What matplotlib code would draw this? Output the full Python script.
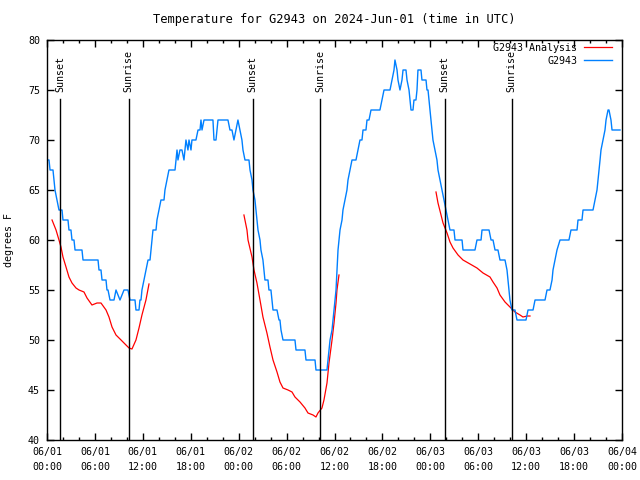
import matplotlib
matplotlib.use("Agg")
import matplotlib.pyplot as plt
import matplotlib.transforms as mtransforms

# hours since 2024-06-01 00:00 UTC
obs_hours = [0.13, 0.25, 0.38, 0.75, 0.88, 1.00, 1.25, 1.50, 1.88, 2.00, 2.63, 2.75, 3.00, 3.13,
             3.38, 3.51, 4.38, 4.51, 6.39, 6.51, 6.76, 6.89, 7.39, 7.51, 7.64, 7.89, 8.39, 8.64,
             9.14, 9.64, 10.14, 10.39, 11.02, 11.14, 11.52, 11.64, 11.77, 11.89, 12.14, 12.39,
             12.65, 12.90, 13.15, 13.27, 13.65, 13.77, 14.02, 14.27, 14.65, 14.77, 15.02, 15.27,
             16.03, 16.15, 16.28, 16.40, 16.65, 16.90, 17.15, 17.40, 17.65, 17.78, 18.03, 18.15,
             18.65, 18.91, 19.16, 19.28, 19.41, 19.66, 20.78, 20.91, 21.16, 21.41, 22.66, 22.91,
             23.16, 23.41, 23.66, 23.91, 24.16, 24.41, 24.54, 24.79, 25.29, 25.42, 25.67, 25.79,
             26.04, 26.17, 26.29, 26.42, 26.67, 26.79, 27.04, 27.17, 27.29, 27.67, 27.79, 28.04,
             28.17, 28.30, 28.80, 29.05, 29.17, 29.30, 29.55, 31.05, 31.18, 32.30, 32.43, 33.56,
             33.68, 35.06, 35.19, 35.44, 35.69, 35.94, 36.19, 36.31, 36.44, 36.69, 36.94, 37.06,
             37.31, 37.56, 37.69, 37.94, 38.19, 38.69, 38.94, 39.19, 39.44, 39.57, 39.94, 40.07,
             40.32, 40.57, 41.69, 41.95, 42.20, 42.95, 43.20, 43.45, 43.57, 43.83, 43.95, 44.20,
             44.45, 44.58, 44.95, 45.08, 45.33, 45.45, 45.58, 45.83, 45.95, 46.20, 46.33, 46.45,
             46.83, 46.95, 47.46, 47.58, 47.71, 47.83, 47.96, 48.08, 48.33, 48.58, 48.83, 48.96,
             49.21, 49.46, 49.71, 49.96, 50.21, 50.46, 50.71, 50.96, 51.09, 51.97, 52.09, 53.59,
             53.84, 54.35, 54.47, 55.35, 55.60, 55.85, 56.10, 56.47, 56.72, 57.35, 57.60, 57.72,
             57.85, 57.97, 58.22, 58.60, 58.85, 59.98, 60.23, 60.86, 61.11, 61.36, 62.36, 62.61,
             62.98, 63.24, 63.36, 63.61, 63.86, 64.24, 65.36, 65.61, 66.37, 66.49, 66.99, 67.12,
             68.37, 68.62, 68.87, 69.00, 69.12, 69.25, 69.37, 69.62, 69.87, 70.00, 70.25, 70.37,
             70.62, 70.75, 71.75]
obs_temps = [68, 68, 67, 67, 66, 65, 64, 63, 63, 62, 62, 61, 61, 60,
             60, 59, 59, 58, 58, 57, 57, 56, 56, 55, 55, 54, 54, 55,
             54, 55, 55, 54, 54, 53, 53, 54, 54, 55, 56, 57,
             58, 58, 60, 61, 61, 62, 63, 64, 64, 65, 66, 67,
             67, 68, 69, 68, 69, 69, 68, 70, 69, 70, 69, 70,
             70, 71, 71, 72, 71, 72, 72, 70, 70, 72, 72, 71,
             71, 70, 71, 72, 71, 70, 69, 68, 68, 67, 66, 65,
             64, 63, 62, 61, 60, 59, 58, 57, 56, 56, 55, 55,
             54, 53, 53, 52, 52, 51, 50, 50, 49, 49, 48, 48,
             47, 47, 48, 50, 51, 53, 55, 57, 59, 61, 62, 63,
             64, 65, 66, 67, 68, 68, 69, 70, 70, 71, 71, 72,
             72, 73, 73, 74, 75, 75, 76, 77, 78, 77, 76, 75,
             76, 77, 77, 76, 75, 74, 73, 73, 74, 74, 75, 77,
             77, 76, 76, 75, 75, 74, 73, 72, 70, 69, 68, 67,
             66, 65, 64, 63, 62, 61, 61, 61, 60, 60, 59, 59,
             60, 60, 61, 61, 60, 60, 59, 59, 58, 58, 57, 56,
             55, 54, 53, 53, 52, 52, 53, 53, 54, 54, 54, 55,
             55, 56, 57, 58, 59, 60, 60, 61, 61, 62, 62, 63,
             63, 64, 65, 66, 67, 68, 69, 70, 71, 72, 73, 73,
             72, 71, 71]

ana1_hours = [0.63, 1.13, 1.50, 1.75, 2.00, 2.38, 2.75, 3.13, 3.63, 4.01, 4.63, 5.01, 5.63, 6.26,
              6.76, 7.39, 7.76, 8.14, 8.64, 9.27, 9.89, 10.27, 10.64, 11.14, 11.52, 11.89, 12.39, 12.77]
ana1_temps = [62.0, 61.0, 60.0, 59.3, 58.3, 57.3, 56.3, 55.7, 55.2, 55.0, 54.8, 54.2, 53.5, 53.7,
              53.7, 53.0, 52.3, 51.3, 50.5, 50.0, 49.5, 49.2, 49.1, 50.0, 51.2, 52.5, 54.0, 55.6]
ana2_hours = [24.66, 25.04, 25.17, 25.67, 25.92, 26.29, 26.67, 27.04, 27.54, 27.92, 28.30, 28.80,
              29.17, 29.55, 30.18, 30.68, 31.05, 31.68, 32.30, 32.68, 33.31, 33.68, 33.93, 34.43,
              34.68, 35.06, 35.31, 35.69, 35.94, 36.19, 36.31, 36.56]
ana2_temps = [62.5, 61.0, 60.0, 58.3, 57.0, 55.7, 54.0, 52.3, 50.7, 49.3, 48.0, 46.8,
              45.8, 45.2, 45.0, 44.8, 44.3, 43.8, 43.2, 42.7, 42.5, 42.3, 42.7, 43.2,
              44.0, 45.7, 47.7, 50.0, 51.7, 53.7, 55.0, 56.5]
ana3_hours = [48.71, 48.96, 49.34, 49.59, 50.09, 50.46, 50.84, 51.47, 52.09, 52.97, 53.84, 54.60,
              55.47, 55.85, 56.35, 56.72, 57.35, 57.97, 58.60, 59.23, 59.60, 60.11, 60.48]
ana3_temps = [64.8, 63.7, 62.5, 61.7, 60.7, 59.8, 59.2, 58.5, 58.0, 57.6, 57.2, 56.7,
              56.3, 55.8, 55.2, 54.5, 53.8, 53.3, 52.8, 52.5, 52.3, 52.4, 52.4]

sun_hours = [1.69, 10.23, 25.74, 34.18, 49.78, 58.18]
sun_labels = ["Sunset", "Sunrise", "Sunset", "Sunrise", "Sunset", "Sunrise"]

tick_hours = list(range(0, 73, 6))
tick_labels = ["06/01\n00:00", "06/01\n06:00", "06/01\n12:00", "06/01\n18:00",
               "06/02\n00:00", "06/02\n06:00", "06/02\n12:00", "06/02\n18:00",
               "06/03\n00:00", "06/03\n06:00", "06/03\n12:00", "06/03\n18:00",
               "06/04\n00:00"]

plt.rcParams['font.family'] = ['DejaVu Sans Mono']
plt.rcParams['font.size'] = 7.2

fig = plt.figure(figsize=(6.4, 4.8), dpi=100)
ax = fig.add_axes([47 / 640, 40 / 480, 575 / 640, 400 / 480])

red = '#ff0000'
blue = '#0080ff'
ax.plot(ana1_hours, ana1_temps, color=red, lw=0.9, label='G2943 Analysis')
ax.plot(ana2_hours, ana2_temps, color=red, lw=0.9)
ax.plot(ana3_hours, ana3_temps, color=red, lw=0.9)
ax.plot(obs_hours, obs_temps, color=blue, lw=1.0, label='G2943')

trans = mtransforms.blended_transform_factory(ax.transData, ax.transAxes)
for h, lab in zip(sun_hours, sun_labels):
    ax.plot([h, h], [0, 0.8525], color='black', lw=1.0, transform=trans)
    ax.text(h, 0.87, lab, rotation=90, ha='center', va='bottom', transform=trans)

ax.set_xlim(0, 72)
ax.set_ylim(40, 80)
ax.set_xticks(tick_hours)
ax.set_xticklabels(tick_labels, linespacing=1.6)
ax.set_xticks(range(0, 73, 2), minor=True)
ax.set_yticks(range(40, 81, 5))
ax.tick_params(which='both', direction='in', top=True, right=True, width=1.0, pad=5)
ax.tick_params(which='major', length=5)
ax.tick_params(which='minor', length=2.5)
for s in ax.spines.values():
    s.set_linewidth(1.0)

ax.set_ylabel('degrees F', labelpad=10)
ax.set_title('Temperature for G2943 on 2024-Jun-01 (time in UTC)', pad=12)

ax.legend(loc='upper right', bbox_to_anchor=(1 - 10 / 575, 1 - 3 / 400), frameon=False,
          markerfirst=False, handlelength=2.8, handletextpad=0.7, borderpad=0,
          borderaxespad=0, labelspacing=0.3)

fig.savefig('out.png', dpi=100)
